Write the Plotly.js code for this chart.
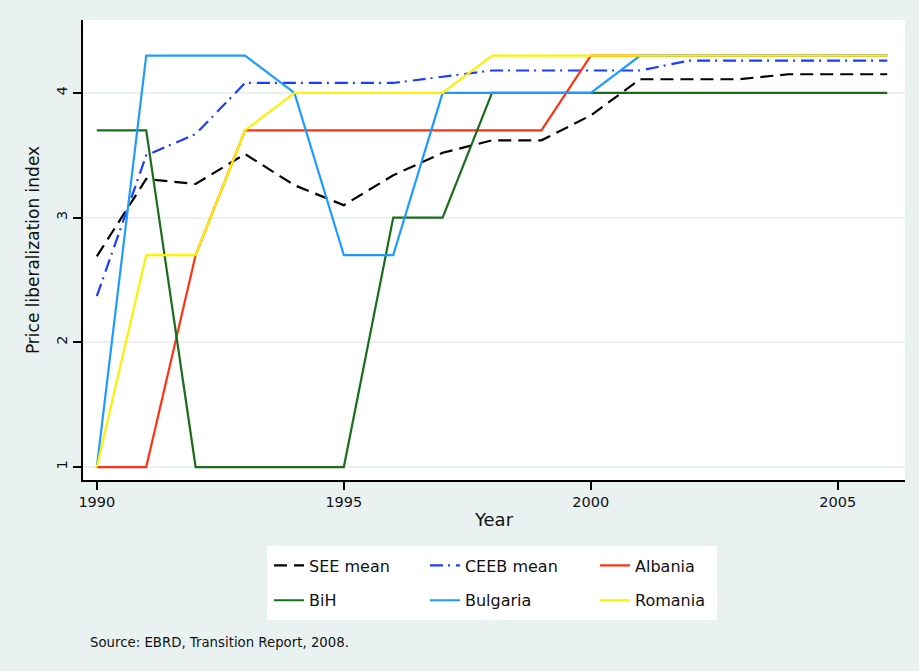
<!DOCTYPE html>
<html>
<head>
<meta charset="utf-8">
<script src="https://cdn.plot.ly/plotly-3.0.1.min.js"></script>
<style>
  html, body { margin: 0; padding: 0; background: #EAF2F1; }
  #chart { width: 919px; height: 671px; }
</style>
</head>
<body>
<div id="chart"></div>
<script>
const years = [1990,1991,1992,1993,1994,1995,1996,1997,1998,1999,2000,2001,2002,2003,2004,2005,2006];
const seeMean  = [2.69,3.31,3.27,3.51,3.26,3.10,3.34,3.52,3.62,3.62,3.82,4.11,4.11,4.11,4.15,4.15,4.15];
const ceebMean = [2.37,3.50,3.67,4.08,4.08,4.08,4.08,4.13,4.18,4.18,4.18,4.18,4.26,4.26,4.26,4.26,4.26];
const albania  = [1,1,2.7,3.7,3.7,3.7,3.7,3.7,3.7,3.7,4.3,4.3,4.3,4.3,4.3,4.3,4.3];
const bih      = [3.7,3.7,1,1,1,1,3,3,4,4,4,4,4,4,4,4,4];
const bulgaria = [1,4.3,4.3,4.3,4,2.7,2.7,4,4,4,4,4.3,4.3,4.3,4.3,4.3,4.3];
const romania  = [1,2.7,2.7,3.7,4,4,4,4,4.3,4.3,4.3,4.3,4.3,4.3,4.3,4.3,4.3];
const xTicks = [1990,1995,2000,2005];
const yTicks = [1,2,3,4];

const FONT = "DejaVu Sans, Verdana, sans-serif";

function tr(name, y, color, dash, legend) {
  return {
    x: years, y: y, name: name, type: 'scatter', mode: 'lines',
    line: {color: color, width: 2.2, dash: dash},
    legend: legend, legendgroup: name
  };
}

const data = [
  tr('SEE mean', seeMean, '#000000', '13px,7px', 'legend'),
  tr('CEEB mean', ceebMean, '#1a3cff', '13px,5px,2px,6px', 'legend2'),
  tr('Albania', albania, '#ff3311', 'solid', 'legend3'),
  tr('BiH', bih, '#1a6e1a', 'solid', 'legend'),
  tr('Bulgaria', bulgaria, '#1e9bff', 'solid', 'legend2'),
  tr('Romania', romania, '#fff000', 'solid', 'legend3')
];

const legBase = {
  orientation: 'v', yanchor: 'top', xanchor: 'left', y: -0.149,
  bgcolor: 'rgba(0,0,0,0)', borderwidth: 0,
  font: {family: FONT, size: 16, color: '#111'},
  traceorder: 'grouped', tracegroupgap: 11
};

const layout = {
  width: 919, height: 671,
  paper_bgcolor: '#EAF2F1', plot_bgcolor: '#ffffff',
  margin: {l: 83, r: 14, t: 20, b: 191},
  font: {family: FONT, size: 14, color: '#111'},
  showlegend: true,
  xaxis: {
    range: [1989.72, 2006.36], tickvals: xTicks, ticktext: xTicks.map(String),
    showgrid: false, zeroline: false,
    showline: true, linecolor: '#000', linewidth: 2,
    ticks: 'outside', ticklen: 8, tickwidth: 2, tickcolor: '#000',
    tickfont: {family: FONT, size: 14.5, color: '#111'},
    title: {text: 'Year', font: {family: FONT, size: 18, color: '#111'}, standoff: 4}
  },
  yaxis: {
    range: [0.896, 4.585], tickvals: yTicks, ticktext: yTicks.map(String),
    showgrid: true, gridcolor: '#EAF2F1', gridwidth: 2, zeroline: false,
    showline: true, linecolor: '#000', linewidth: 2,
    ticks: 'outside', ticklen: 8, tickwidth: 2, tickcolor: '#000',
    tickangle: -90,
    tickfont: {family: FONT, size: 14.5, color: '#111'},
    title: {text: 'Price liberalization index', font: {family: FONT, size: 17, color: '#111'}, standoff: 10}
  },
  legend: Object.assign({}, legBase, {x: 0.2263}),
  legend2: Object.assign({}, legBase, {x: 0.416}),
  legend3: Object.assign({}, legBase, {x: 0.6229}),
  shapes: [{
    type: 'rect', xref: 'paper', yref: 'paper',
    x0: 0.2238, x1: 0.7713, y0: -0.1435, y1: -0.3043,
    fillcolor: '#ffffff', line: {width: 0}, layer: 'above'
  }],
  annotations: [{
    xref: 'paper', yref: 'paper', x: 0.006, y: -0.333,
    xanchor: 'left', yanchor: 'top', showarrow: false,
    text: 'Source: EBRD, Transition Report, 2008.',
    font: {family: FONT, size: 13.3, color: '#111'}
  }]
};

Plotly.newPlot('chart', data, layout, {displayModeBar: false, staticPlot: true});
</script>
</body>
</html>
